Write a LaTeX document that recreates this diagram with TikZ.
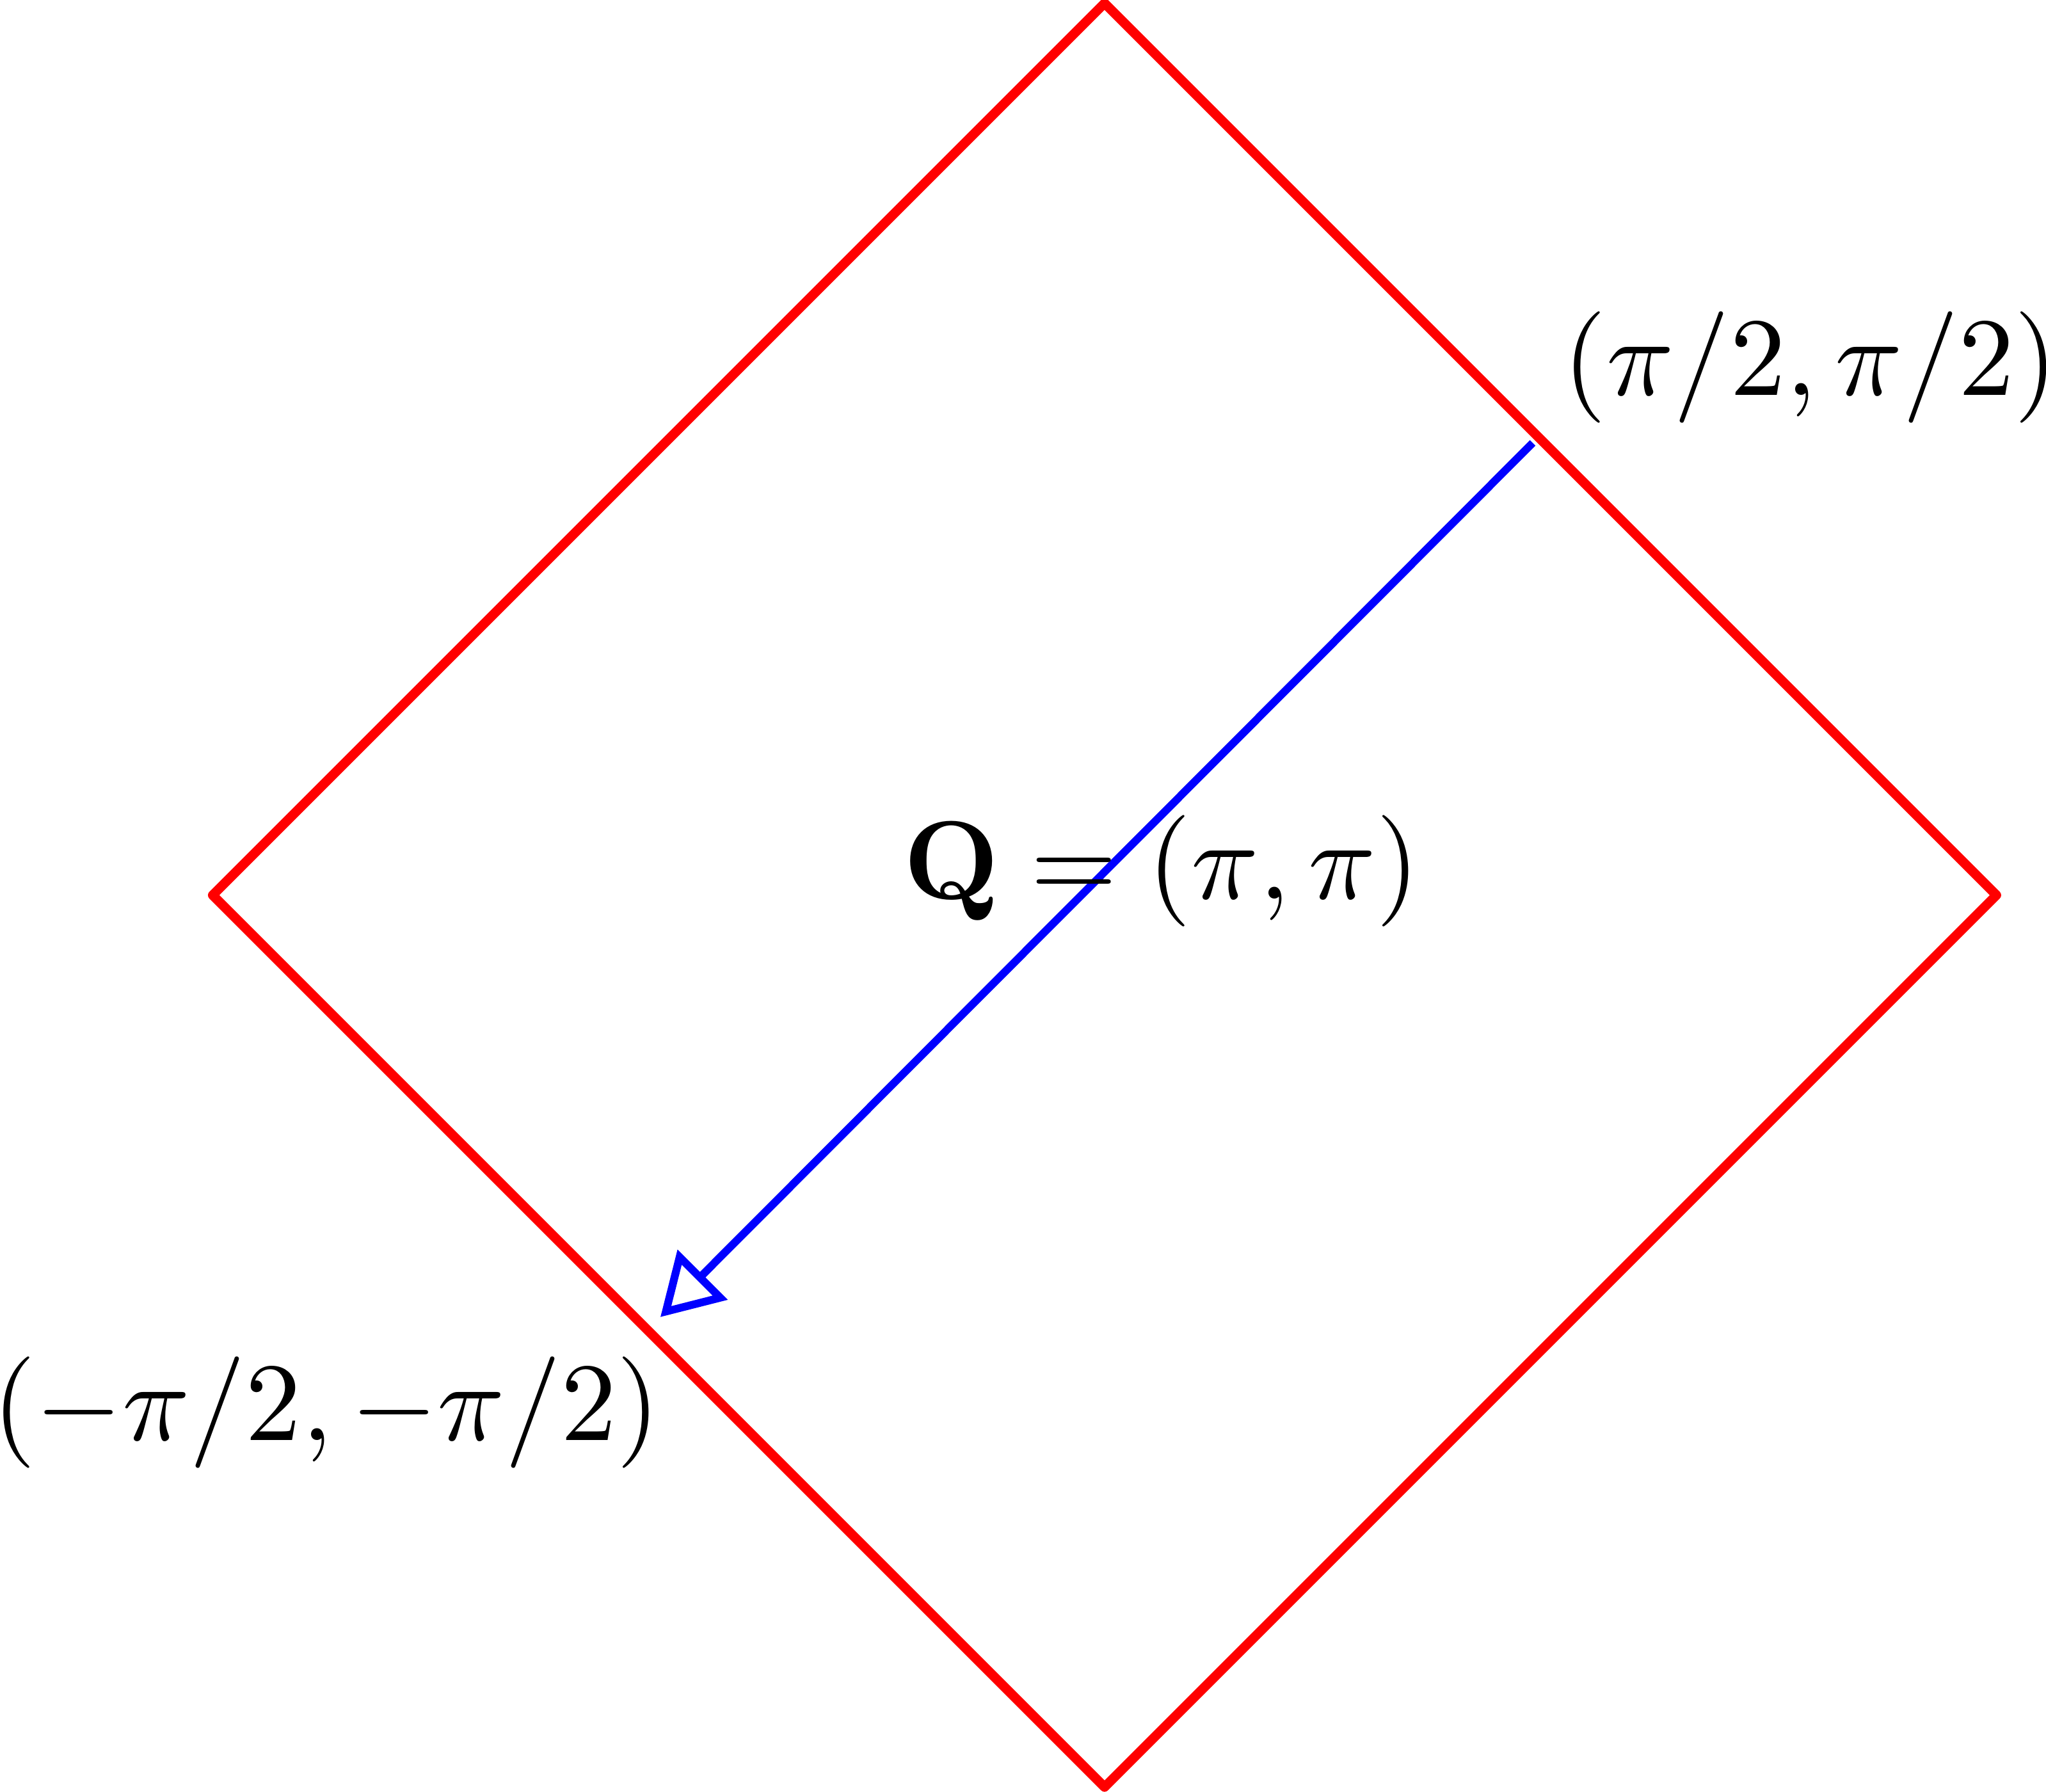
\documentclass[tikz,border=0pt]{standalone}
\usepackage{amsmath,amssymb}
\usepackage{tikz}
\usepackage{xcolor}
\usetikzlibrary{arrows.meta,positioning,calc}
\tikzset{
  >=Stealth,
  bz/.style    ={red,line width=0.85pt,line join=round},
  qv/.style    ={blue,line width=0.7pt,-{Triangle[open,angle=60:6.2pt]}},
  lbl/.style   ={inner sep=0pt},
}

\begin{document}
\begin{tikzpicture}[x=80pt,y=80pt]
\useasboundingbox (-1.2385,-1.0051) rectangle (1.0556,1.0037);
% zone corners
\coordinate (t) at (0,1);
\coordinate (r) at (1,0);
\coordinate (b) at (0,-1);
\coordinate (l) at (-1,0);
\draw[bz] (t)--(r)--(b)--(l)--cycle;

% nesting vector
\coordinate (qs) at (0.480,0.507);
\coordinate (qe) at (-0.498,-0.473);
\draw[qv] (qs)--(qe);

% labels
\node[lbl] (q)  at (0.0636,0.0271)   {$\mathbf{Q}=(\pi,\pi)$};
\node[lbl] (pp) at (0.7915,0.5918)   {$(\pi/2,\pi/2)$};
\node[lbl] (mm) at (-0.8727,-0.5801) {$(-\pi/2,-\pi/2)$};
\end{tikzpicture}
\end{document}
